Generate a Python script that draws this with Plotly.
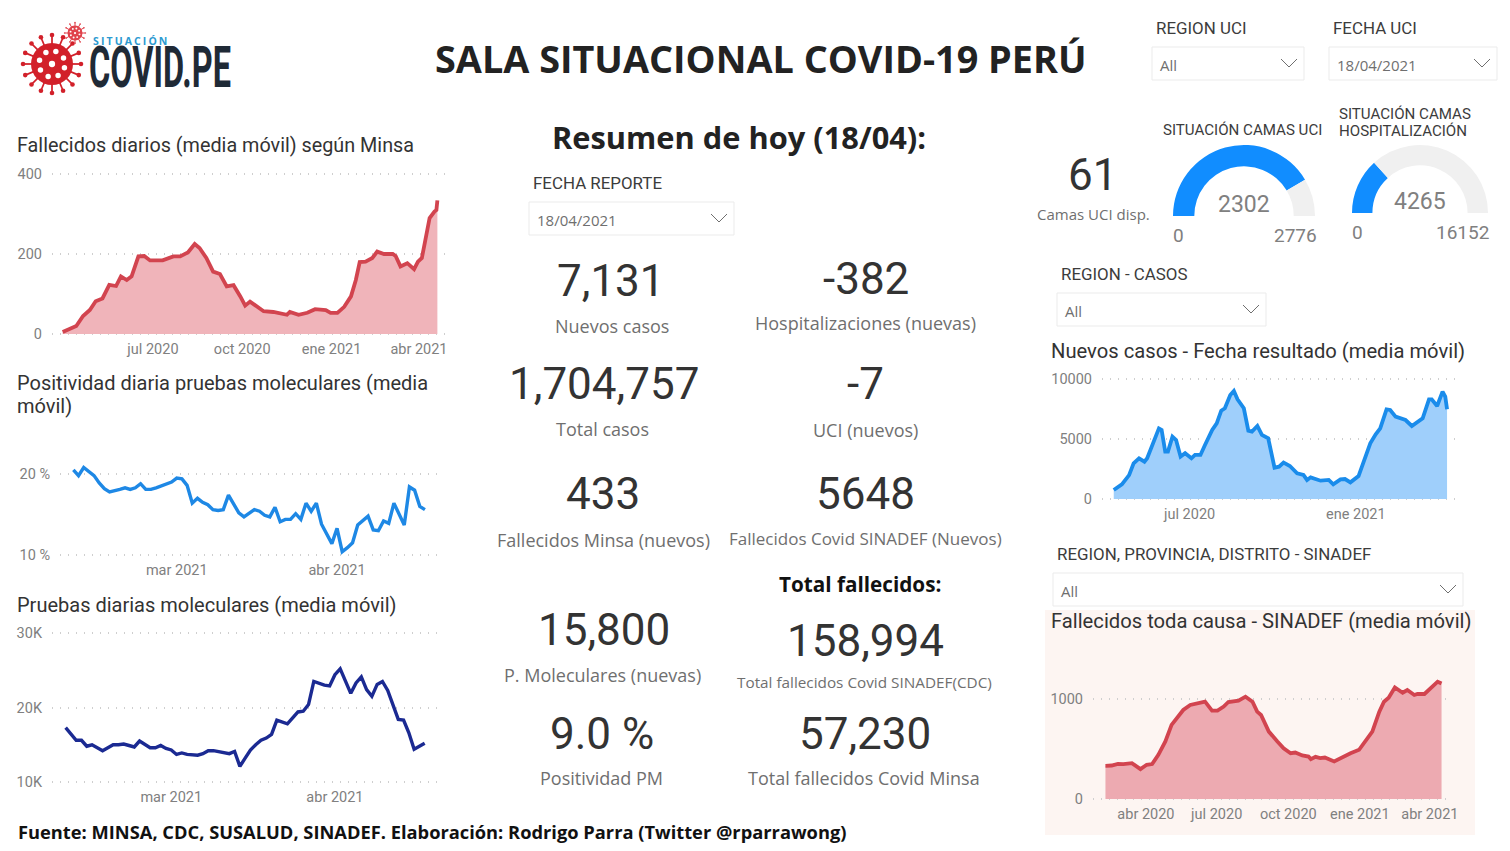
"""Sala situacional COVID-19 Peru dashboard, rebuilt as one plotly figure."""
import math

import pandas as pd
import plotly.graph_objects as go

WIDTH = 1510
HEIGHT = 851

# Fallecidos diarios (Minsa)
minsa_dates = [
    "2020-03-30", "2020-04-06", "2020-04-13", "2020-04-20", "2020-04-27", "2020-05-03", "2020-05-10",
    "2020-05-17", "2020-05-24", "2020-05-29", "2020-06-04", "2020-06-09", "2020-06-16", "2020-06-22",
    "2020-06-28", "2020-07-05", "2020-07-11", "2020-07-22", "2020-07-29", "2020-08-06", "2020-08-13",
    "2020-08-18", "2020-08-25", "2020-09-01", "2020-09-08", "2020-09-15", "2020-09-22", "2020-09-29",
    "2020-10-04", "2020-10-09", "2020-10-18", "2020-10-23", "2020-11-02", "2020-11-16", "2020-11-19",
    "2020-11-28", "2020-12-07", "2020-12-15", "2020-12-26", "2020-12-31", "2021-01-07", "2021-01-14",
    "2021-01-21", "2021-01-26", "2021-01-30", "2021-02-05", "2021-02-12", "2021-02-17", "2021-02-24",
    "2021-03-05", "2021-03-08", "2021-03-13", "2021-03-20", "2021-03-27", "2021-03-31", "2021-04-04",
    "2021-04-07", "2021-04-12", "2021-04-17", "2021-04-19", "2021-04-20",
]
minsa_values = [
    5, 12, 20, 45, 60, 82, 89, 123, 120, 144, 135, 144, 194, 195, 184, 184, 184, 194, 194, 204, 225,
    215, 190, 156, 150, 119, 122, 94, 71, 81, 67, 57, 55, 48, 55, 48, 53, 62, 60, 53, 53, 68, 94, 135,
    180, 181, 190, 206, 200, 200, 195, 169, 177, 162, 181, 190, 227, 290, 306, 310, 334,
]

# Positividad and pruebas moleculares share the same daily dates, 09/02 to 18/04
molecular_start = "2021-02-09"
molecular_end = "2021-04-18"
positividad_values = [
    20.5, 19.8, 20.8, 20.3, 19.8, 18.9, 18.2, 17.8, 17.9, 18.1, 18.3, 18.1, 18.3, 18.8, 18.1, 18.1, 18.3,
    18.5, 18.8, 19.0, 19.5, 19.4, 18.6, 16.4, 17.0, 16.5, 16.2, 15.6, 15.5, 15.6, 17.4, 16.3, 15.2, 14.7,
    15.1, 15.6, 15.4, 14.9, 14.7, 15.9, 14.1, 14.4, 14.4, 15.1, 14.4, 16.4, 15.4, 16.4, 13.8, 12.5, 11.4,
    13.3, 10.4, 10.9, 11.5, 13.7, 14.3, 14.8, 13.1, 13.0, 14.2, 13.9, 16.4, 15.1, 13.7, 18.4, 18.0, 16.0,
    15.6,
]
pruebas_values = [
    17300, 16500, 15600, 15600, 14800, 15000, 14600, 14200, 14600, 15000, 15000, 15100, 14900, 14700,
    15500, 15000, 14600, 14600, 14900, 14500, 14300, 13700, 13900, 13700, 13600, 13600, 13800, 14200,
    14200, 14100, 13900, 13800, 14100, 12100, 13200, 14300, 15000, 15600, 15900, 16400, 18300, 18000,
    17800, 18600, 19400, 19500, 20400, 23500, 23200, 23000, 22900, 24400, 25200, 23600, 21900, 23300,
    24100, 22400, 21500, 23100, 23500, 22300, 20200, 18400, 18300, 16600, 14400, 14800, 15200,
]

# Nuevos casos por fecha de resultado
casos_dates = [
    "2020-04-08", "2020-04-17", "2020-04-25", "2020-04-30", "2020-05-06", "2020-05-12", "2020-05-15",
    "2020-05-20", "2020-05-28", "2020-05-31", "2020-06-04", "2020-06-07", "2020-06-12", "2020-06-16",
    "2020-06-21", "2020-06-26", "2020-07-03", "2020-07-07", "2020-07-13", "2020-07-18", "2020-07-26",
    "2020-07-31", "2020-08-05", "2020-08-09", "2020-08-15", "2020-08-19", "2020-08-23", "2020-08-30",
    "2020-09-04", "2020-09-08", "2020-09-14", "2020-09-19", "2020-09-26", "2020-10-03", "2020-10-08",
    "2020-10-13", "2020-10-20", "2020-10-28", "2020-11-04", "2020-11-08", "2020-11-12", "2020-11-23",
    "2020-12-02", "2020-12-07", "2020-12-15", "2020-12-20", "2020-12-26", "2021-01-04", "2021-01-10",
    "2021-01-17", "2021-01-23", "2021-01-28", "2021-02-04", "2021-02-08", "2021-02-14", "2021-02-25",
    "2021-03-04", "2021-03-10", "2021-03-16", "2021-03-23", "2021-03-26", "2021-04-01", "2021-04-04",
    "2021-04-07", "2021-04-10", "2021-04-12",
]
casos_values = [
    750, 1225, 2000, 2980, 3400, 3120, 3400, 4370, 5900, 5770, 3960, 3960, 5210, 4930, 3540, 3820, 3400,
    3680, 3680, 4510, 5770, 6320, 7380, 7580, 8690, 9030, 8330, 7580, 5710, 5630, 6100, 5350, 5070, 2620,
    2700, 3040, 2760, 2150, 2010, 1590, 1810, 1530, 1590, 1230, 1640, 1670, 1390, 1920, 3260, 4650, 5400,
    5900, 7490, 7440, 6880, 6600, 6100, 6460, 6740, 8330, 8330, 7770, 8410, 8970, 8550, 7490,
]

# Fallecidos toda causa (SINADEF)
sinadef_dates = [
    "2020-02-09", "2020-02-17", "2020-02-25", "2020-03-03", "2020-03-14", "2020-03-25", "2020-04-02",
    "2020-04-09", "2020-04-17", "2020-04-26", "2020-05-04", "2020-05-11", "2020-05-19", "2020-05-28",
    "2020-06-06", "2020-06-16", "2020-06-25", "2020-07-02", "2020-07-10", "2020-07-16", "2020-07-29",
    "2020-08-07", "2020-08-16", "2020-08-22", "2020-08-27", "2020-09-06", "2020-09-17", "2020-09-25",
    "2020-10-04", "2020-10-10", "2020-10-19", "2020-10-27", "2020-10-30", "2020-11-05", "2020-11-11",
    "2020-11-17", "2020-11-29", "2020-12-07", "2020-12-20", "2020-12-31", "2021-01-08", "2021-01-17",
    "2021-01-26", "2021-02-01", "2021-02-07", "2021-02-15", "2021-02-25", "2021-03-03", "2021-03-12",
    "2021-03-16", "2021-03-25", "2021-03-31", "2021-04-06", "2021-04-11", "2021-04-16",
]
sinadef_values = [
    332, 335, 352, 349, 359, 299, 342, 349, 442, 575, 741, 807, 890, 940, 957, 973, 884, 884, 924, 970,
    983, 1023, 973, 874, 840, 674, 575, 508, 458, 465, 435, 425, 399, 422, 409, 415, 375, 409, 458, 492,
    575, 674, 874, 973, 1013, 1116, 1063, 1090, 1040, 1050, 1050, 1096, 1129, 1173, 1156,
]

# Gauges: current value and maximum
uci_used, uci_max = 2302, 2776
hosp_used, hosp_max = 4265, 16152

TITLE_FONT = "Roboto"
BODY_FONT = "Open Sans"
TEXT_DARK = "#333333"
TEXT_GREY = "#6f6f6f"
TICK_GREY = "#808080"
GRID = "#cfcfcf"

RED = "#D2444F"
BLUE = "#1A8CEB"

# The logo lettering is condensed and spaced, which annotations cannot do by themselves
POST_SCRIPT = """
document.body.style.margin = '0';
document.querySelectorAll('.annotation-text').forEach(function (el) {
  var t = el.textContent;
  if (t === 'COVID.PE') {
    el.style.transformBox = 'fill-box';
    el.style.transformOrigin = 'left center';
    el.style.transform = 'scaleX(0.57)';
  }
  if (t === 'SITUACIÓN') { el.style.letterSpacing = '2.1px'; }
});
"""


def px_x(x):
    return x / WIDTH


def px_y(y):
    return 1 - y / HEIGHT


fig = go.Figure()
annotations = []
shapes = []
layout_axes = {}


def label(x, y, text, size, color=TEXT_DARK, family=BODY_FONT, anchor="center"):
    annotations.append(dict(
        xref="paper", yref="paper", x=px_x(x), y=px_y(y), text=text, showarrow=False,
        xanchor=anchor, yanchor="middle", align=anchor, borderpad=0,
        font=dict(size=size, color=color, family=family),
    ))


def box(x0, y0, x1, y1, fill="rgba(0,0,0,0)", line="#ebebeb", layer="below"):
    shapes.append(dict(
        type="rect", xref="paper", yref="paper", x0=px_x(x0), x1=px_x(x1), y0=px_y(y0), y1=px_y(y1),
        fillcolor=fill, line=dict(color=line, width=1 if line else 0), layer=layer,
    ))


def slicer(title, value, x0, y0, x1, y1):
    """Power BI dropdown: title above, box with value and a chevron."""
    label(x0 + 3, y0 - 19, title, 16.9, color="#3c3c3c", family=TITLE_FONT, anchor="left")
    box(x0, y0, x1, y1)
    label(x0 + 7, y0 + 18, value, 15, color=TEXT_GREY, anchor="left")
    cx, cy = x1 - 15, y0 + 16
    path = f"M {px_x(cx - 8)} {px_y(cy - 4)} L {px_x(cx)} {px_y(cy + 4)} L {px_x(cx + 8)} {px_y(cy - 4)}"
    shapes.append(dict(type="path", xref="paper", yref="paper", path=path, line=dict(color="#6f6f6f", width=1)))


def add_chart(idx, x, y, x_px, y_px, x_range, y_range, x_ticks, y_ticks, color, fill=None, width=3.8):
    """One line or area chart placed on the page by its pixel box."""
    suffix = "" if idx == 1 else str(idx)
    fig.add_trace(go.Scatter(
        x=x, y=y, mode="lines", xaxis=f"x{suffix}", yaxis=f"y{suffix}", cliponaxis=False,
        line=dict(color=color, width=width),
        fill="tozeroy" if fill else None, fillcolor=fill,
        showlegend=False, hoverinfo="skip",
    ))
    layout_axes[f"xaxis{suffix}"] = dict(
        domain=[px_x(x_px[0]), px_x(x_px[1])], range=x_range, type="date", anchor=f"y{suffix}",
        tickvals=[t[0] for t in x_ticks], ticktext=[t[1] for t in x_ticks], showgrid=False,
        zeroline=False, showline=False, ticks="", ticklabelstandoff=2, automargin=False,
        tickfont=dict(size=14.5, color=TICK_GREY, family=TITLE_FONT),
    )
    layout_axes[f"yaxis{suffix}"] = dict(
        domain=[px_y(y_px[1]), px_y(y_px[0])], range=y_range, anchor=f"x{suffix}",
        tickvals=[t[0] for t in y_ticks], ticktext=[t[1] for t in y_ticks], showgrid=True,
        gridcolor=GRID, griddash="1px,7px", gridwidth=1.5, zeroline=False, showline=False, ticks="",
        ticklabelstandoff=9, automargin=False, tickfont=dict(size=14.5, color=TICK_GREY, family=TITLE_FONT),
    )


def add_gauge(value, maximum, cx, cy, radius):
    """Half donut, the third slice is the hidden lower half."""
    fig.add_trace(go.Pie(
        values=[value, maximum - value, maximum], sort=False, direction="clockwise", rotation=270,
        hole=0.7, textinfo="none", hoverinfo="skip", showlegend=False,
        marker=dict(colors=["#118DFF", "#F0F0F0", "rgba(0,0,0,0)"], line=dict(width=0)),
        domain=dict(x=[px_x(cx - radius), px_x(cx + radius)], y=[px_y(cy + radius), px_y(cy - radius)]),
    ))


def add_virus(cx, cy, radius, color, spikes):
    """Logo mark: body, spikes with round tips, light spots."""
    def circle(x, y, r, fill):
        shapes.append(dict(
            type="circle", xref="paper", yref="paper", x0=px_x(x - r), x1=px_x(x + r),
            y0=px_y(y + r), y1=px_y(y - r), fillcolor=fill, line=dict(width=0),
        ))

    for i in range(spikes):
        a = 2 * math.pi * i / spikes
        tip = radius * 1.38
        shapes.append(dict(
            type="line", xref="paper", yref="paper",
            x0=px_x(cx), y0=px_y(cy), x1=px_x(cx + tip * math.cos(a)), y1=px_y(cy + tip * math.sin(a)),
            line=dict(color=color, width=max(1, radius / 12)),
        ))
        circle(cx + tip * math.cos(a), cy + tip * math.sin(a), radius * 0.11, color)
    circle(cx, cy, radius, color)
    for i in range(8):
        a = 2 * math.pi * i / 8 + 0.3
        circle(cx + radius * 0.62 * math.cos(a), cy + radius * 0.62 * math.sin(a), radius * 0.13, "#ffffff")
    circle(cx, cy, radius * 0.15, "#ffffff")


# ---- header ----
add_virus(52, 64, 21, "#D2202A", 16)
add_virus(75, 33, 7.5, "#E0434C", 12)
label(92, 41, "<b>SITUACIÓN</b>", 10.5, color="#2C9AD1", family="Open Sans", anchor="left")
label(88, 67, "<b>COVID.PE</b>", 57, color="#1F2A36", family="Roboto", anchor="left")
label(761, 59, "<b>SALA SITUACIONAL COVID-19 PERÚ</b>", 37.8, color="#222222")
label(739, 137, "<b>Resumen de hoy (18/04):</b>", 30.8, color="#222222")

# ---- slicers ----
slicer("REGION UCI", "All", 1152, 47, 1304, 80)
slicer("FECHA UCI", "18/04/2021", 1329, 47, 1497, 80)
slicer("FECHA REPORTE", "18/04/2021", 529, 202, 734, 235)
slicer("REGION - CASOS", "All", 1057, 293, 1266, 326)
slicer("REGION, PROVINCIA, DISTRITO - SINADEF", "All", 1053, 573, 1463, 606)

# ---- left column ----
label(16, 146, "Fallecidos diarios (media móvil) según Minsa", 19.8, family=TITLE_FONT, anchor="left")
add_chart(
    1, minsa_dates, minsa_values, (52, 450), (172, 336), ["2020-03-19", "2021-05-03"], [-5, 405],
    [("2020-07-01", "jul 2020"), ("2020-10-01", "oct 2020"), ("2021-01-01", "ene 2021"), ("2021-04-01", "abr 2021")],
    [(0, "0"), (200, "200"), (400, "400")], RED, fill="#F0B4BA",
)

label(16, 383, "Positividad diaria pruebas moleculares (media", 20, family=TITLE_FONT, anchor="left")
label(16, 406, "móvil)", 20, family=TITLE_FONT, anchor="left")
molecular_dates = [str(d) for d in pd.date_range(molecular_start, molecular_end).date]
molecular_range = ["2021-02-06 10:00", "2021-04-20 08:00"]
add_chart(
    2, molecular_dates, positividad_values, (60, 437), (440, 557), molecular_range, [9.75, 24.2],
    [("2021-03-01", "mar 2021"), ("2021-04-01", "abr 2021")],
    [(10, "10 %"), (20, "20 %")], "#1E88E5", width=3.4,
)

label(16, 605, "Pruebas diarias moleculares (media móvil)", 20, family=TITLE_FONT, anchor="left")
add_chart(
    3, molecular_dates, pruebas_values, (52, 437), (631, 784), molecular_range, [9730, 30270],
    [("2021-03-01", "mar 2021"), ("2021-04-01", "abr 2021")],
    [(10000, "10K"), (20000, "20K"), (30000, "30K")], "#1B2A92", width=3.4,
)

# ---- middle column ----
BIG = 44
CAPTION = 18
for x, y, text in [
    (611, 281, "7,131"), (866, 279, "-382"), (604, 384, "1,704,757"), (865, 384, "-7"),
    (603, 494, "433"), (866, 494, "5648"), (604, 630, "15,800"), (866, 641, "158,994"),
    (602, 734, "9.0 %"), (865, 734, "57,230"), (1092, 175, "61"),
]:
    label(x, y, text, BIG, family=TITLE_FONT)

for x, y, text, size in [
    (612, 326, "Nuevos casos", CAPTION), (865, 323, "Hospitalizaciones (nuevas)", CAPTION),
    (602, 429, "Total casos", CAPTION), (866, 430, "UCI (nuevos)", CAPTION),
    (603, 540, "Fallecidos Minsa (nuevos)", CAPTION), (866, 538, "Fallecidos Covid SINADEF (Nuevos)", 17),
    (602, 675, "P. Moleculares (nuevas)", CAPTION), (864, 682, "Total fallecidos Covid SINADEF(CDC)", 15.3),
    (601, 778, "Positividad PM", CAPTION), (864, 778, "Total fallecidos Covid Minsa", CAPTION),
    (1093, 214, "Camas UCI disp.", 15),
]:
    label(x, y, text, size, color=TEXT_GREY)
label(860, 584, "<b>Total fallecidos:</b>", 20.7, color="#111111")

# ---- gauges ----
label(1242, 130, "SITUACIÓN CAMAS UCI", 15.1, color="#3c3c3c", family=TITLE_FONT)
label(1338, 114, "SITUACIÓN CAMAS", 15.1, color="#3c3c3c", family=TITLE_FONT, anchor="left")
label(1338, 131, "HOSPITALIZACIÓN", 15.1, color="#3c3c3c", family=TITLE_FONT, anchor="left")
add_gauge(uci_used, uci_max, 1244, 216, 71)
add_gauge(hosp_used, hosp_max, 1420, 213, 68)
label(1244, 204, str(uci_used), 23, color=TICK_GREY, family=TITLE_FONT)
label(1420, 201, str(hosp_used), 23, color=TICK_GREY, family=TITLE_FONT)
label(1178, 235, "0", 19, color=TICK_GREY, family=TITLE_FONT)
label(1295, 235, str(uci_max), 19, color=TICK_GREY, family=TITLE_FONT)
label(1357, 232, "0", 19, color=TICK_GREY, family=TITLE_FONT)
label(1462, 232, str(hosp_max), 19, color=TICK_GREY, family=TITLE_FONT)

# ---- right column ----
label(1050, 351, "Nuevos casos - Fecha resultado (media móvil)", 20.2, family=TITLE_FONT, anchor="left")
add_chart(
    4, casos_dates, casos_values, (1102, 1457), (377.3, 501), ["2020-03-26", "2021-04-23"], [-167, 10167],
    [("2020-07-01", "jul 2020"), ("2021-01-01", "ene 2021")],
    [(0, "0"), (5000, "5000"), (10000, "10000")], BLUE, fill="#9FCFFB",
)

box(1045, 610, 1475, 835, fill="#FDF5F2", line=None)
label(1050, 621, "Fallecidos toda causa - SINADEF (media móvil)", 20.2, family=TITLE_FONT, anchor="left")
add_chart(
    5, sinadef_dates, sinadef_values, (1093, 1447), (650, 801), ["2020-01-24", "2021-04-23"], [-20, 1490],
    [("2020-04-01", "abr 2020"), ("2020-07-01", "jul 2020"), ("2020-10-01", "oct 2020"),
     ("2021-01-01", "ene 2021"), ("2021-04-01", "abr 2021")],
    [(0, "0"), (1000, "1000")], RED, fill="#EDAAB1",
)

label(
    17, 831, "<b>Fuente: MINSA, CDC, SUSALUD, SINADEF. Elaboración: Rodrigo Parra (Twitter @rparrawong)</b>",
    18.3, color="#111111", anchor="left",
)

fig.update_layout(
    template="none", width=WIDTH, height=HEIGHT, margin=dict(l=0, r=0, t=0, b=0, pad=0),
    paper_bgcolor="white", plot_bgcolor="rgba(0,0,0,0)",
    font=dict(family=BODY_FONT), showlegend=False,
    annotations=annotations, shapes=shapes, **layout_axes,
)

fig.write_html("out.html", config={"displayModeBar": False}, post_script=POST_SCRIPT)
